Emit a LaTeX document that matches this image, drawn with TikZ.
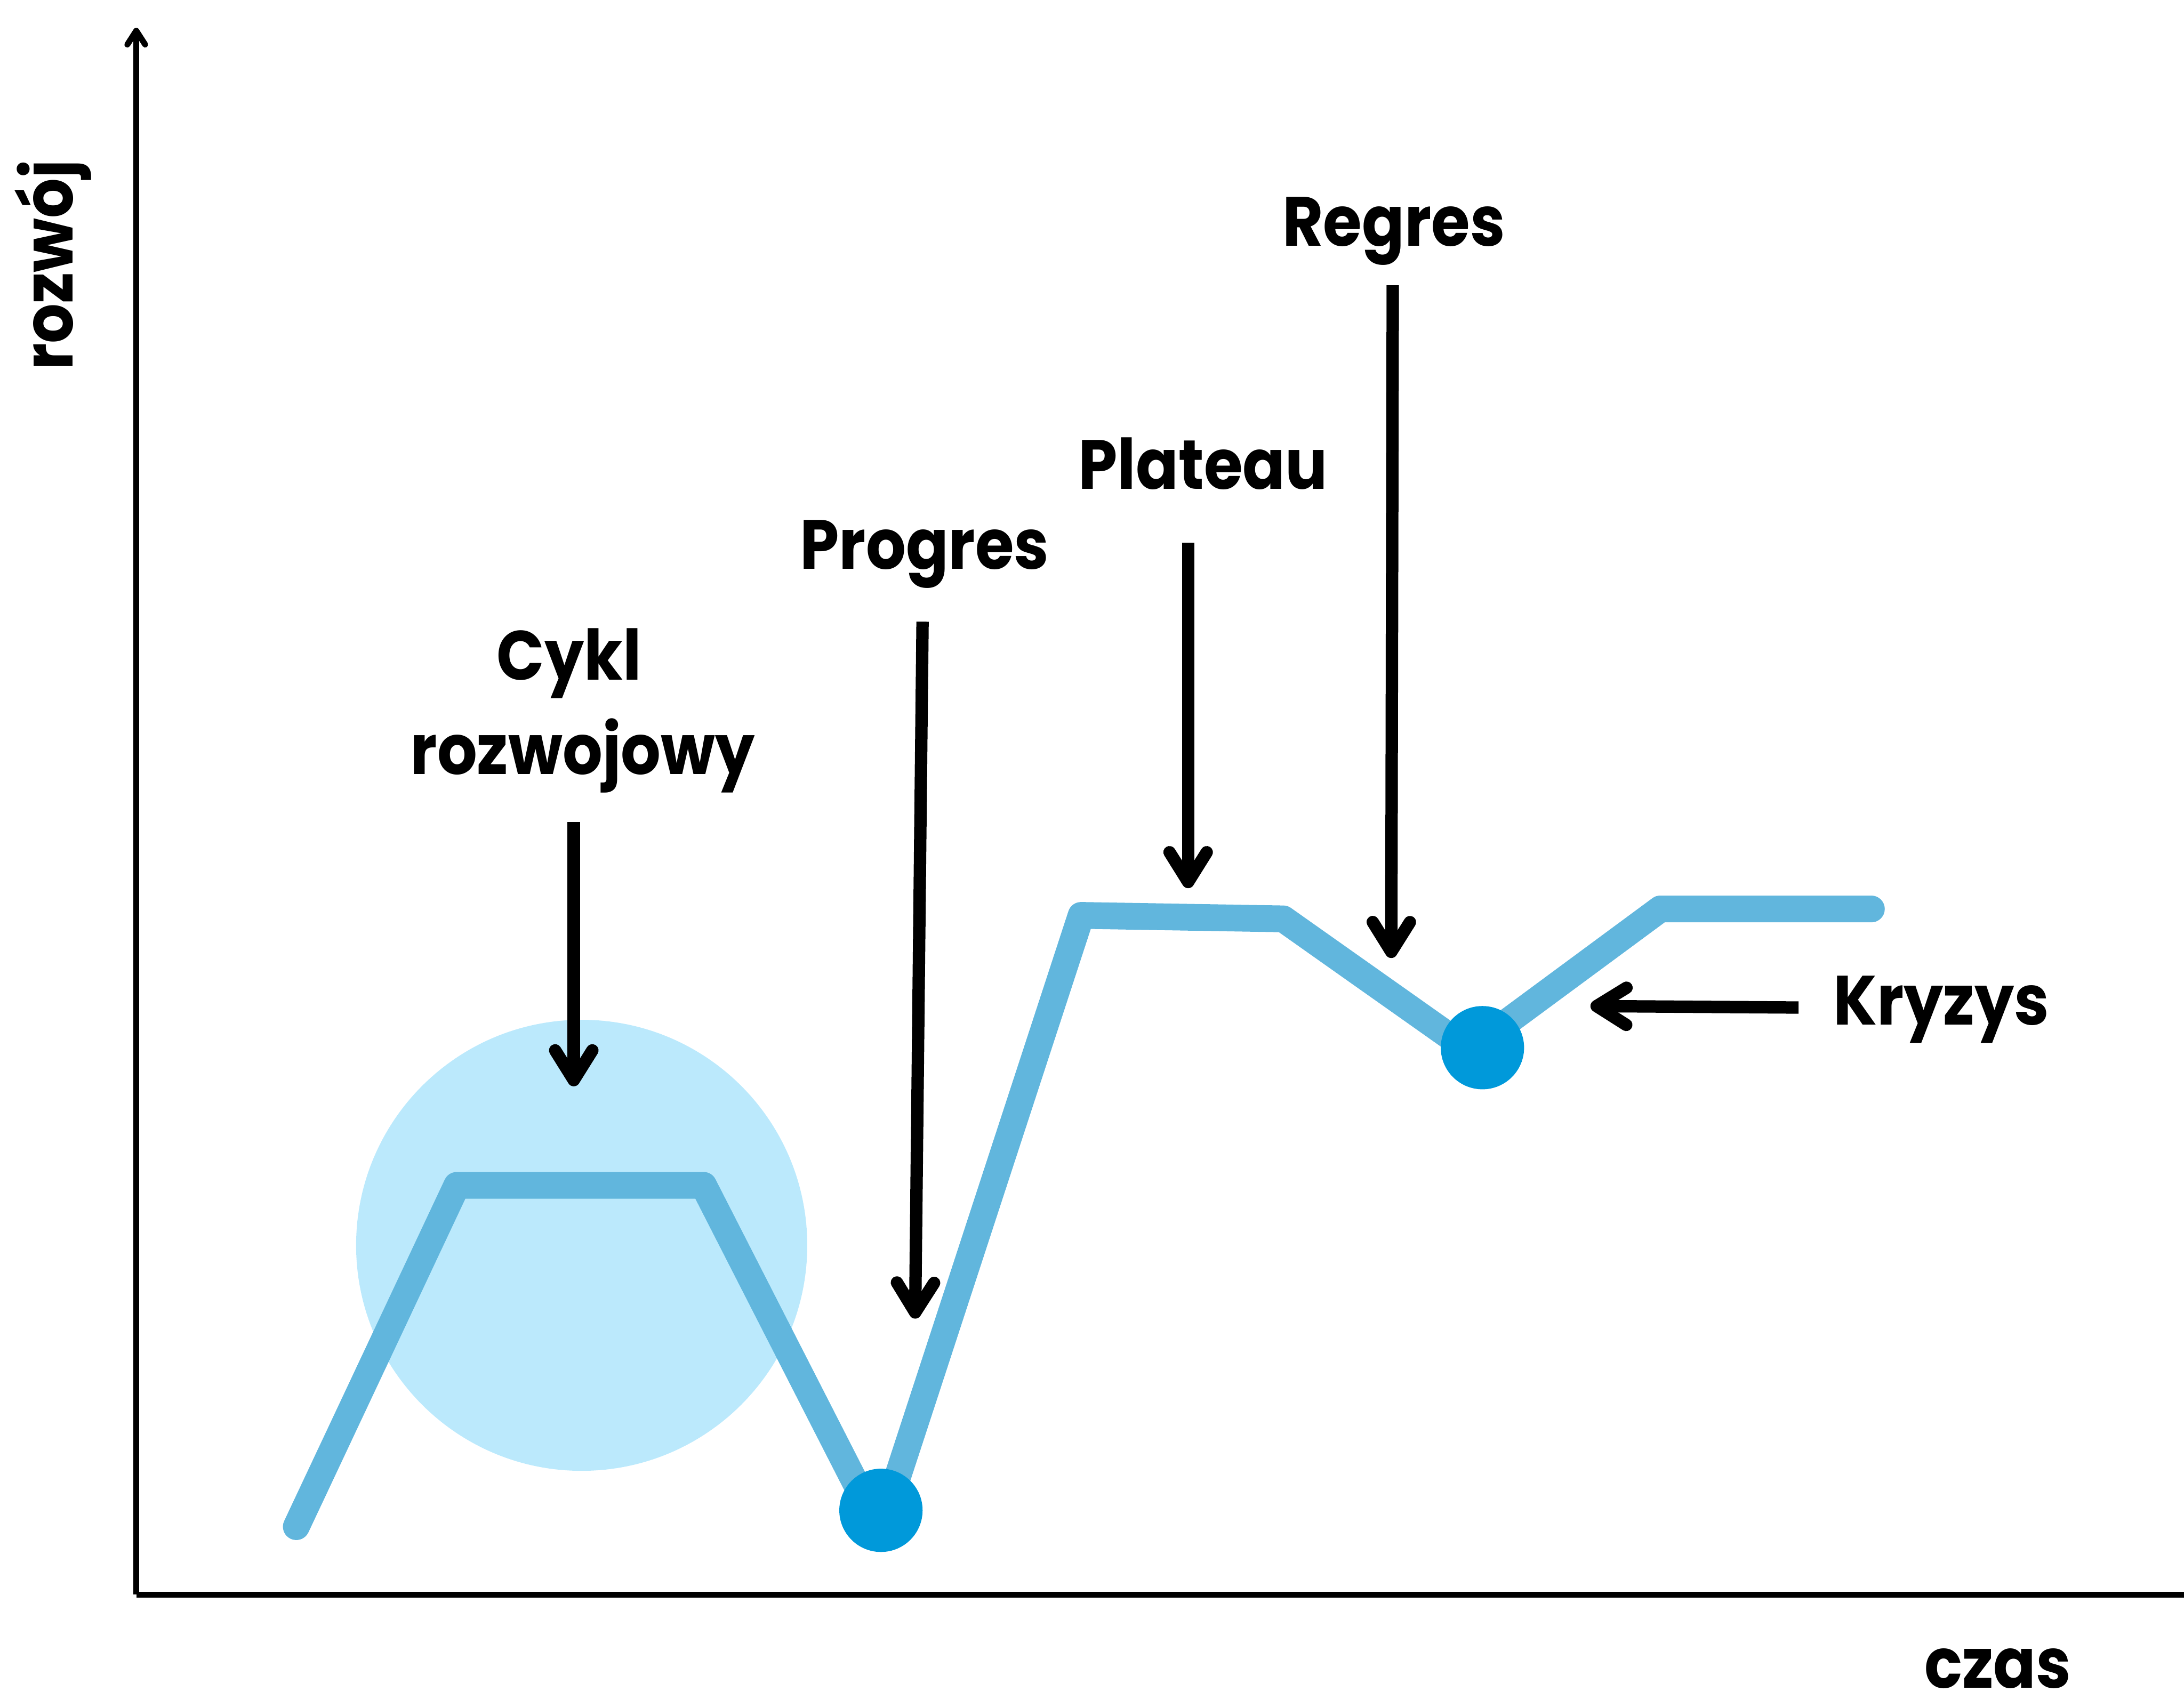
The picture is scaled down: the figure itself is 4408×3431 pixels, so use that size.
\documentclass[tikz,border=0pt]{standalone}
\usepackage{fontspec}
\setmainfont{Poppins}[BoldFeatures={FakeStretch=0.9}]
\usetikzlibrary{arrows.meta}
\definecolor{linecol}{HTML}{61B6DD}
\definecolor{dotcol}{HTML}{0099DA}
\definecolor{halocol}{HTML}{BBE9FC}
\begin{document}
\begin{tikzpicture}[x=0.01cm,y=-0.01cm,
  lbl/.style={font=\fontsize{40}{48}\selectfont\bfseries, anchor=base, inner sep=0pt},
  pointer/.style={line width=0.25cm, -{Straight Barb[length=0.6cm,width=0.75cm,round]}},
  axisline/.style={line width=0.12cm},
  graphline/.style={line width=0.54cm, color=linecol, line cap=round, line join=round},
  dot/.style={circle, fill=dotcol, minimum size=1.68cm, inner sep=0pt},
  halo/.style={circle, fill=halocol, minimum size=9.1cm, inner sep=0pt}]
\useasboundingbox (0,0) rectangle (4408,3431);

% axes
\coordinate (origin) at (275,3219);
\coordinate (ytop) at (275,56);
\coordinate (xend) at (4408,3219);
\draw[axisline, -{Straight Barb[length=0.28cm,width=0.36cm,round]}] (origin) -- (ytop);
\draw[axisline] (origin) -- (xend);
\node[lbl, rotate=90] (ylab) at (147,535) {rozwój};
\node[lbl] (xlab) at (4032,3408) {czas};

% halo
\node[halo] (halo) at (1174,2514) {};

% graph
\coordinate (p1) at (598,3082);
\coordinate (p2) at (922,2393);
\coordinate (p3) at (1420,2393);
\coordinate (p4) at (1776,3090);
\coordinate (p5) at (2182,1848);
\coordinate (p6) at (2590,1855);
\coordinate (p7) at (2965,2120);
\coordinate (p8) at (3351,1835);
\coordinate (p9) at (3777,1835);
\draw[graphline] (p1) -- (p2) -- (p3) -- (p4) -- (p5) -- (p6) -- (p7) -- (p8) -- (p9);
\node[dot] (dot1) at (1778,3049) {};
\node[dot] (dot2) at (2992,2115) {};

% labels
\node[lbl] (cykl) at (1149,1373) {Cykl};
\node[lbl] (rozw) at (1176,1563) {rozwojowy};
\node[lbl] (progres) at (1866,1149) {Progres};
\node[lbl] (plateau) at (2428,987) {Plateau};
\node[lbl] (regres) at (2813,497) {Regres};
\node[lbl] (kryzys) at (3918,2069) {Kryzys};

% pointers
\coordinate (a1s) at (1158,1659); \coordinate (a1e) at (1158,2193);
\coordinate (a2s) at (1862,1255); \coordinate (a2e) at (1847,2662);
\coordinate (a3s) at (2398,1096); \coordinate (a3e) at (2398,1793);
\coordinate (a4s) at (2811,576);  \coordinate (a4e) at (2808,1934);
\coordinate (a5s) at (3630,2034); \coordinate (a5e) at (3210,2031);
\draw[pointer] (a1s) -- (a1e);
\draw[pointer] (a2s) -- (a2e);
\draw[pointer] (a3s) -- (a3e);
\draw[pointer] (a4s) -- (a4e);
\draw[pointer] (a5s) -- (a5e);
\end{tikzpicture}
\end{document}
